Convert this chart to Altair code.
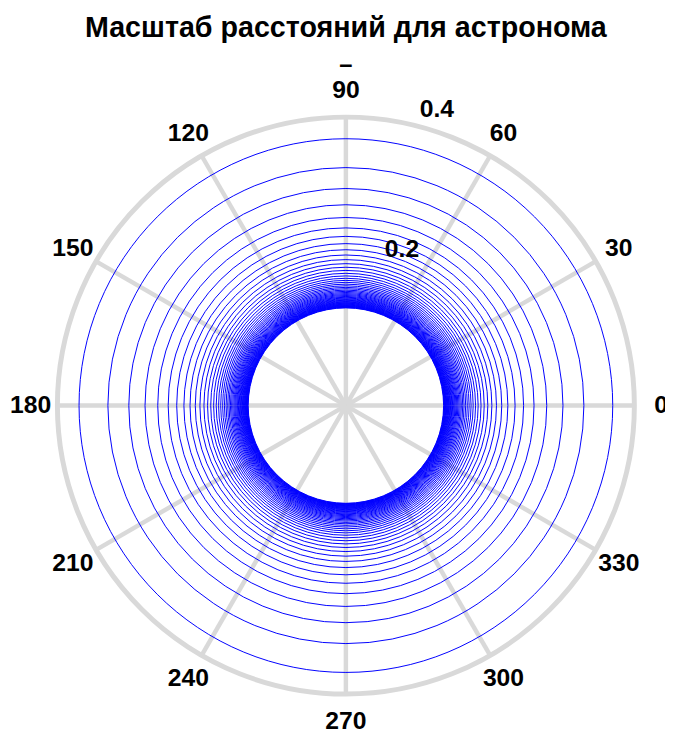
import altair as alt
import pandas as pd
import numpy as np

TITLE = "Масштаб расстояний для астронома"
SUBTITLE = "–"

# radii of the blue circles (outermost first)
radii = [0.370, 0.330, 0.301, 0.2785, 0.2608, 0.2464, 0.2346, 0.2246, 0.2161,
         0.2088, 0.2024, 0.1968, 0.1918, 0.1874, 0.1834, 0.1798, 0.1765, 0.1736,
         0.1709, 0.1684, 0.1661, 0.1639, 0.1620, 0.1601, 0.1584, 0.1568, 0.1553,
         0.1539, 0.1526, 0.1513, 0.1502, 0.1491, 0.1480, 0.1470, 0.1461, 0.1452,
         0.1443, 0.1435, 0.1427, 0.1420, 0.1413, 0.1406, 0.1399, 0.1393, 0.1387,
         0.1381, 0.1376, 0.1370, 0.1365, 0.1360, 0.1355]
angle_ticks = [0, 30, 60, 90, 120, 150, 180, 210, 240, 270, 300, 330]
radial_ticks = [0.2, 0.4]
r_max = 0.4

W = 584
R = W / 2
FONT = "Liberation Sans"
GRID = "#d9d9d9"

xs = alt.Scale(domain=[-r_max, r_max], nice=False, zero=False)
ys = alt.Scale(domain=[-r_max, r_max], nice=False, zero=False)
rs = alt.Scale(type="linear", domain=[0, r_max], range=[0, R], zero=True, nice=False)

ang_df = pd.DataFrame({"a": angle_ticks})

spokes = alt.Chart(ang_df).transform_calculate(
    x0="0", y0="0",
    x1=f"{r_max}*cos(datum.a*PI/180)",
    y1=f"{r_max}*sin(datum.a*PI/180)",
).mark_rule(color=GRID, strokeWidth=4.5).encode(
    x=alt.X("x0:Q", scale=xs, axis=None),
    y=alt.Y("y0:Q", scale=ys, axis=None),
    x2="x1:Q", y2="y1:Q",
)

outer = alt.Chart(pd.DataFrame({"r": [r_max]})).mark_arc(
    filled=False, theta=0, theta2=2 * np.pi, color=GRID, strokeWidth=5
).encode(radius=alt.Radius("r:Q", scale=rs, stack=None))

circles = alt.Chart(pd.DataFrame({"r": radii})).mark_arc(
    filled=False, theta=0, theta2=2 * np.pi, color="#0000ff", strokeWidth=1
).encode(radius=alt.Radius("r:Q", scale=rs, stack=None))

label_r = r_max * 1.0925
alabels = alt.Chart(ang_df).transform_calculate(
    lx=f"{label_r}*cos(datum.a*PI/180)",
    ly=f"{label_r}*sin(datum.a*PI/180)",
    t="'' + datum.a",
).mark_text(font=FONT, fontSize=25, fontWeight="bold", color="black",
            align="center", baseline="middle").encode(
    x=alt.X("lx:Q", scale=xs, axis=None),
    y=alt.Y("ly:Q", scale=ys, axis=None),
    text="t:N",
)

rlabels = alt.Chart(pd.DataFrame({"v": radial_ticks})).transform_calculate(
    lx="(datum.v + 0.023)*cos(76*PI/180)",
    ly="(datum.v + 0.023)*sin(76*PI/180)",
    t="format(datum.v, '.1f')",
).mark_text(font=FONT, fontSize=25, fontWeight="bold", color="black",
            align="left", baseline="middle").encode(
    x=alt.X("lx:Q", scale=xs, axis=None),
    y=alt.Y("ly:Q", scale=ys, axis=None),
    text="t:N",
)

chart = alt.layer(spokes, outer, circles, alabels, rlabels).properties(
    width=W, height=W,
    title=alt.TitleParams(
        text=TITLE, subtitle=SUBTITLE, font=FONT, fontSize=29, fontWeight="bold",
        color="black", subtitleFont=FONT, subtitleFontSize=24,
        subtitleFontWeight="bold", subtitleColor="black", anchor="middle",
        frame="group", offset=2, subtitlePadding=10,
    ),
    autosize=alt.AutoSizeParams(type="none"),
    padding={"left": 50, "top": 106, "right": 31, "bottom": 37},
).configure_view(strokeWidth=0)

chart.save("out.html", embed_options={"renderer": "svg", "actions": False})
